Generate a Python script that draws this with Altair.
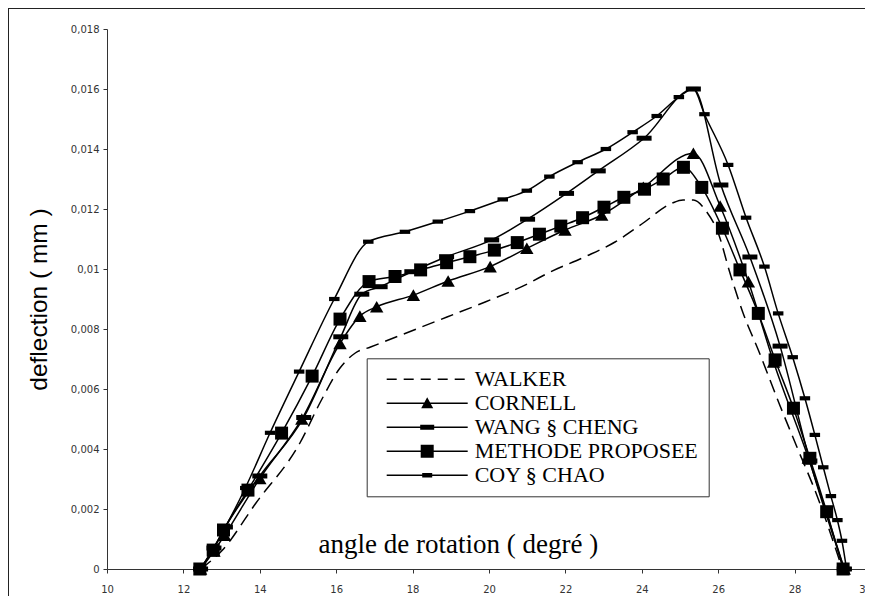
import altair as alt
import pandas as pd

series_names = ["WALKER", "CORNELL", "WANG § CHENG", "METHODE PROPOSEE", "COY § CHAO"]

walker_x = [12.45, 13.0, 13.9, 15.05, 15.6, 16.1, 16.5, 16.9, 17.7, 18.9, 19.9, 21.0, 21.6, 22.5, 23.3,
            24.0, 24.8, 25.08, 25.35, 25.7, 26.0, 26.3, 26.66, 27.05, 27.6, 28.05, 28.6, 29.25]
walker_y = [0.0, 0.0006, 0.0022, 0.0042, 0.0056, 0.0067, 0.0072, 0.0074, 0.0078, 0.0084, 0.0089, 0.0095,
            0.0099, 0.0104, 0.0109, 0.0115, 0.0122, 0.0123, 0.0123, 0.0119, 0.0112, 0.0099, 0.0085, 0.0073,
            0.0055, 0.0041, 0.0024, 0.0]

cornell_x = [12.45, 12.8, 13.08, 14.0, 15.1, 16.1, 16.62, 17.06, 18.02, 18.93, 20.03, 20.99, 21.99, 22.95,
             24.04, 25.35, 26.05, 26.79, 27.45, 28.36, 29.3]
cornell_y = [0.0, 0.0006, 0.00113, 0.00302, 0.00500, 0.00752, 0.00843, 0.00874, 0.00913, 0.0096, 0.01008,
             0.01069, 0.0113, 0.0118, 0.01272, 0.01386, 0.0121, 0.00958, 0.0069, 0.0037, 0.0]

wang_x = [12.45, 12.8, 13.1, 14.0, 15.15, 16.12, 16.67, 17.15, 17.98, 18.89, 20.07, 21.01, 22.03, 22.86,
          24.06, 25.35, 26.07, 26.83, 27.62, 28.4, 29.3]
wang_y = [0.0, 0.0007, 0.0014, 0.0031, 0.00505, 0.00774, 0.00916, 0.00941, 0.00991, 0.01041, 0.01097,
          0.01166, 0.01252, 0.01327, 0.01436, 0.0160, 0.0128, 0.0104, 0.00743, 0.0036, 0.0]

methode_x = [12.43, 12.78, 13.05, 13.69, 14.57, 15.37, 16.1, 16.86, 17.54, 18.21, 18.89, 19.5, 20.14, 20.74,
             21.32, 21.88, 22.45, 23.01, 23.53, 24.07, 24.56, 25.09, 25.57, 26.11, 26.57, 27.05, 27.49,
             27.97, 28.4, 28.84, 29.27]
methode_y = [0.0, 0.00063, 0.0013, 0.00263, 0.00453, 0.00643, 0.00833, 0.00958, 0.00975, 0.00997, 0.01021,
             0.01041, 0.01063, 0.01088, 0.01116, 0.01143, 0.01171, 0.01206, 0.01239, 0.01266, 0.0130,
             0.01339, 0.01272, 0.01136, 0.00997, 0.00852, 0.00697, 0.00536, 0.00369, 0.00191, 0.0]

coy_x = [12.45, 13.1, 13.62, 14.27, 15.03, 15.95, 16.84, 17.80, 18.66, 19.5, 20.36, 20.99, 21.58, 22.32,
         23.06, 23.76, 24.39, 24.97, 25.35, 25.64, 26.26, 26.73, 27.21, 27.57, 27.95, 28.27, 28.53, 28.75,
         28.95, 29.12, 29.24, 29.36]
coy_y = [0.0, 0.0014, 0.0027, 0.00454, 0.00658, 0.0090, 0.01091, 0.01124, 0.01158, 0.01193, 0.01232,
         0.01261, 0.01308, 0.01356, 0.0140, 0.01456, 0.0151, 0.01573, 0.0160, 0.01516, 0.01347, 0.01171,
         0.01008, 0.00852, 0.00706, 0.00569, 0.00447, 0.00339, 0.00243, 0.00163, 0.00094, 0.0]

x_ticks = [10, 12, 14, 16, 18, 20, 22, 24, 26, 28, 30]
y_ticks = [0, 0.002, 0.004, 0.006, 0.008, 0.01, 0.012, 0.014, 0.016, 0.018]

all_series = [
    ("WALKER", walker_x, walker_y),
    ("CORNELL", cornell_x, cornell_y),
    ("WANG § CHENG", wang_x, wang_y),
    ("METHODE PROPOSEE", methode_x, methode_y),
    ("COY § CHAO", coy_x, coy_y),
]
rows = []
for name, xs, ys in all_series:
    for i, (xv, yv) in enumerate(zip(xs, ys)):
        rows.append({"series": name, "angle": xv, "deflection": yv, "order": i})
df = pd.DataFrame(rows)

# legend symbols: filled line sample + marker (unit = 10 px)
LINE = "M-0.1,-0.075H8V0.075H-0.1Z"
legend_paths = [
    "M-0.1,-0.075H0.9V0.075H-0.1Z M1.6,-0.075H2.6V0.075H1.6Z M3.3,-0.075H4.3V0.075H3.3Z "
    "M5,-0.075H6V0.075H5Z M6.7,-0.075H7.7V0.075H6.7Z",
    LINE + " M3.95,-0.6L4.55,0.5L3.35,0.5Z",
    LINE + " M3.25,-0.25H4.65V0.25H3.25Z",
    LINE + " M3.3,-0.65H4.6V0.65H3.3Z",
    LINE + " M3.45,-0.22H4.45V0.22H3.45Z",
]

x_enc = alt.X(
    "angle:Q",
    scale=alt.Scale(domain=[10, 30], range=[99, 863], nice=False, zero=False),
    axis=alt.Axis(
        values=x_ticks, grid=False, offset=-39, tickSize=4, tickColor="#333", domainColor="#333",
        labelFont="DejaVu Sans", labelFontSize=10, labelColor="#333", labelPadding=11,
        labelFlush=False, labelOverlap=False,
        labelOffset={"condition": {"test": "datum.value >= 30", "value": -6}, "value": 0},
        title="angle de rotation ( degré )", titleFont="Liberation Serif", titleFontSize=27,
        titleFontWeight="normal", titleColor="black", titleX=310, titleY=-17, titleAlign="left",
        titleBaseline="alphabetic", titleAngle=0,
    ),
)
y_enc = alt.Y(
    "deflection:Q",
    scale=alt.Scale(domain=[0, 0.018], range=[561, 21], nice=False),
    axis=alt.Axis(
        values=y_ticks, grid=False, offset=-99, tickSize=4, tickColor="#333", domainColor="#333",
        labelFont="DejaVu Sans", labelFontSize=10, labelColor="#333", labelPadding=4,
        labelOverlap=False, labelExpr="replace(toString(datum.value), '.', ',')",
        title="deflection ( mm )", titleFont="Liberation Sans", titleFontSize=24.5,
        titleFontWeight="normal", titleColor="black", titlePadding=19,
    ),
)

base = alt.Chart(df).encode(x=x_enc, y=y_enc)

walker_line = base.mark_line(
    interpolate="monotone", color="black", strokeWidth=1.5, strokeDash=[13, 7]
).encode(order="order:Q").transform_filter(alt.datum.series == "WALKER")

other_lines = base.mark_line(interpolate="monotone", color="black", strokeWidth=1.5).encode(
    detail="series:N", order="order:Q"
).transform_filter(alt.datum.series != "WALKER")

tri = base.mark_point(shape="triangle-up", size=180, filled=True, color="black", opacity=1).transform_filter(
    alt.datum.series == "CORNELL")
wang = base.mark_point(shape="M-1,-0.333H1V0.333H-1Z", size=225, filled=True, color="black", opacity=1).transform_filter(
    alt.datum.series == "WANG § CHENG")
sq = base.mark_point(shape="square", size=169, filled=True, color="black", opacity=1).transform_filter(
    alt.datum.series == "METHODE PROPOSEE")
coy = base.mark_point(shape="M-1,-0.4H1V0.4H-1Z", size=110, filled=True, color="black", opacity=1).transform_filter(
    alt.datum.series == "COY § CHAO")

legend_layer = base.mark_point(filled=True, color="black", strokeWidth=0, size=400, opacity=0).encode(
    shape=alt.Shape(
        "series:N",
        scale=alt.Scale(domain=series_names, range=legend_paths),
        legend=alt.Legend(
            title=None, orient="none", legendX=358.7, legendY=350.3,
            strokeColor="#333", fillColor="white", padding=10, cornerRadius=0,
            labelFont="Liberation Serif", labelFontSize=22, labelColor="black", labelOffset=76,
            labelLimit=500, symbolSize=400, symbolStrokeWidth=0,
            symbolFillColor="black", symbolOpacity=1, rowPadding=2,
        ),
    )
)

chart = alt.layer(walker_line, other_lines, tri, wang, sq, coy, legend_layer).properties(
    width=867, height=600, background="white",
    padding={"left": 0, "top": 0, "right": -10, "bottom": -12},
    autosize=alt.AutoSizeParams(type="none"),
).configure_view(stroke="#222", strokeWidth=2)

chart.save("out.html", embed_options={"renderer": "svg", "actions": False})
